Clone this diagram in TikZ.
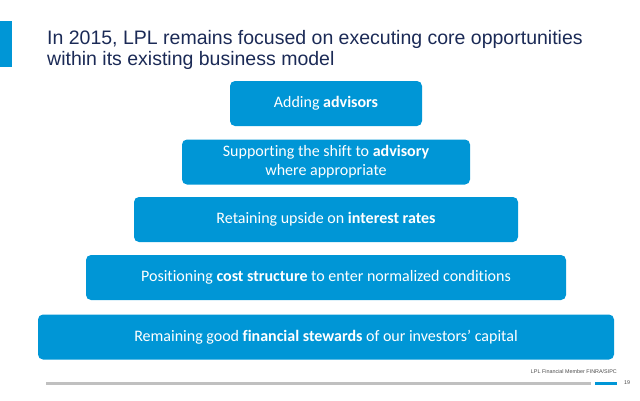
\documentclass[tikz,border=0pt]{standalone}
\usepackage{fontspec}
\setmainfont{Carlito}[Ligatures={NoCommon}]
\newfontfamily\arialfont{Liberation Sans}
\definecolor{lplblue}{RGB}{0,150,214}
\definecolor{lplnavy}{RGB}{27,42,86}
\definecolor{lplgray}{RGB}{192,192,192}
\begin{document}
\begin{tikzpicture}[x=1pt,y=-1pt,
	tier/.style={fill=lplblue,draw=none,rounded corners=5pt,minimum height=45pt,text=white,align=center,font=\fontsize{16}{19}\selectfont,inner sep=0pt}]
	\useasboundingbox (0,0) rectangle (640,400);
	\fill[lplblue] (0,21) rectangle (12,67);
	\node[anchor=base west,text=lplnavy,font=\arialfont\fontsize{19.5}{21}\selectfont,inner sep=0pt,align=left] (title) at (47,65) {In 2015, LPL remains focused on executing core opportunities\\within its existing business model};
	% the pyramid
	\node[tier,minimum width=192pt] (adv) at (326,103.5) {Adding \textbf{advisors}};
	\node[tier,minimum width=288pt] (shift) at (326,162) {Supporting the shift to \textbf{advisory}\\where appropriate};
	\node[tier,minimum width=384pt] (rates) at (326,219.5) {Retaining upside on \textbf{interest rates}};
	\node[tier,minimum width=480pt] (cost) at (326,277.5) {Positioning \textbf{cost structure} to enter normalized conditions};
	\node[tier,minimum width=576pt] (stew) at (326,337) {Remaining good \textbf{financial stewards} of our investors’ capital};
	% footer
	\draw[lplgray,line width=3pt] (46,383) -- (591,383);
	\draw[lplblue,line width=3pt] (595,383) -- (617,383);
	\node[anchor=base east,inner sep=0pt,font=\arialfont\fontsize{5.4}{6}\selectfont,text=black!70] (member) at (617,373) {LPL Financial Member FINRA/SIPC};
	\node[anchor=base west,inner sep=0pt,font=\arialfont\fontsize{5.4}{6}\selectfont,text=black!70] (page) at (624,384.5) {19};
\end{tikzpicture}
\end{document}
